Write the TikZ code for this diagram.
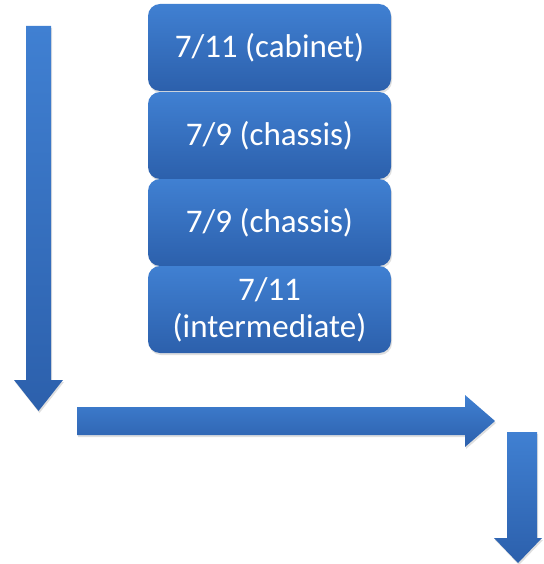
\documentclass[tikz,border=0pt]{standalone}
\usepackage{fontspec}
\setmainfont{Carlito}
\usetikzlibrary{shadows}
\definecolor{btop}{RGB}{64,128,210}
\definecolor{bbot}{RGB}{44,96,172}
\tikzset{
  blk/.style={rounded corners=12pt, minimum width=243pt, minimum height=87pt,
    top color=btop, bottom color=bbot, draw=none, text=white,
    font=\fontsize{33}{37}\selectfont, align=center, inner sep=2pt,
    drop shadow={shadow xshift=1pt, shadow yshift=-2pt, opacity=0.25}},
  arr/.style={top color=btop, bottom color=bbot, draw=none,
    drop shadow={shadow xshift=1pt, shadow yshift=-2pt, opacity=0.25}}
}
\begin{document}
\begin{tikzpicture}[x=1pt,y=1pt]
\useasboundingbox (0,0) rectangle (543,-564);
\node[blk] (b1) at (269.5,-47.5) {7/11 (cabinet)};
\node[blk] (b2) at (269.5,-135.5) {7/9 (chassis)};
\node[blk] (b3) at (269.5,-222.5) {7/9 (chassis)};
\node[blk] (b4) at (269.5,-309.5) {7/11\\(intermediate)};
% left down arrow
\path[arr] (26,-26) -- (51,-26) -- (51,-380) -- (63,-380) -- (38.5,-411) -- (14,-380) -- (26,-380) -- cycle;
% horizontal arrow
\path[arr] (77,-407) -- (465,-407) -- (465,-395) -- (495,-421) -- (465,-447) -- (465,-435) -- (77,-435) -- cycle;
% bottom right down arrow
\path[arr] (507,-432) -- (537,-432) -- (537,-538) -- (542,-538) -- (518,-563) -- (494,-538) -- (507,-538) -- cycle;
\end{tikzpicture}
\end{document}
